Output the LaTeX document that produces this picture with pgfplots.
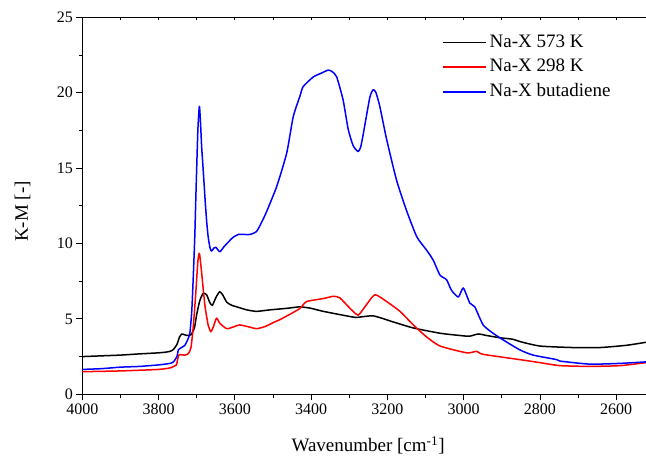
\documentclass[border=0pt]{standalone}
\usepackage{fontspec}
\setmainfont{Liberation Serif}
\usepackage{pgfplots}
\pgfplotsset{compat=1.18}

% Kubelka-Munk spectra of Na-X (wavenumber in cm^-1, K-M value)
\pgfplotsset{spec/.style={line width=1.5pt, line join=round, smooth, tension=0.35}}
\begin{document}
\begin{tikzpicture}
\useasboundingbox (-82.3pt,-61.7pt) rectangle (563.7pt,394.3pt);
\begin{axis}[
  scale only axis,
  width=563.7pt, height=377pt,
  x dir=reverse,
  xmin=2522, xmax=4000, ymin=0, ymax=25,
  axis x line*=bottom, axis y line*=left,
  axis line style={-, line width=1.1pt},
  tick align=outside,
  major tick length=6pt, minor tick length=3.5pt,
  every tick/.style={black, line width=0.9pt},
  xtick={2600,2800,...,4000}, ytick={0,5,...,25},
  xticklabels={2600,2800,3000,3200,3400,3600,3800,4000},
  yticklabels={0,5,10,15,20,25},
  minor x tick num=1, minor y tick num=1,
  tick label style={font=\rmfamily\fontsize{16}{19}\selectfont},
  label style={font=\fontsize{19}{23}\selectfont},
  xlabel={Wavenumber [cm\textsuperscript{-1}]},
  ylabel={K-M [-]},
  xlabel style={at={(axis description cs:0.507,0)}, anchor=base, yshift=-57pt},
  ylabel style={at={(axis description cs:-0.106,0.485)}, anchor=center},
  legend cell align=left,
  legend style={draw=none, fill=none, at={(axis description cs:0.6376,0.957)},
    anchor=north west, inner sep=0pt, row sep=7.2pt,
    font=\fontsize{19}{23}\selectfont,
    nodes={inner xsep=3pt, inner ysep=0pt, text height=13.5pt, text depth=4pt}},
  legend image code/.code={\draw[#1, line width=1.5pt] (0pt,0pt) -- (43.3pt,0pt);},
]
\addplot[black, spec] coordinates {
(4000,2.5) (3950,2.55) (3900,2.6) (3850,2.68) (3800,2.75) (3780,2.8) (3770,2.85)
(3762,2.95) (3752,3.3) (3745,3.8) (3739,4.0) (3732,3.95) (3725,3.9) (3715,3.95)
(3706,4.4) (3700,5.3) (3692,6.2) (3683,6.7) (3674,6.6) (3666,6.1) (3659,5.9)
(3650,6.4) (3640,6.8) (3632,6.6) (3621,6.1) (3608,5.9) (3595,5.8) (3569,5.6)
(3543,5.5) (3508,5.6) (3464,5.7) (3429,5.8) (3400,5.7) (3368,5.5) (3307,5.2)
(3281,5.1) (3237,5.2) (3185,4.8) (3132,4.4) (3062,4.05) (3010,3.9) (2985,3.85)
(2962,4.0) (2940,3.9) (2905,3.75) (2871,3.65) (2853,3.5) (2800,3.2) (2713,3.1)
(2643,3.1) (2573,3.25) (2522,3.45)
};
\addlegendentry{Na-X 573 K}
\addplot[red, spec] coordinates {
(4000,1.5) (3900,1.55) (3800,1.65) (3770,1.75) (3760,1.85) (3753,1.95) (3747,2.6)
(3731,2.6) (3722,2.7) (3715,3.1) (3709,4.5) (3703,6.5) (3697,8.8) (3693,9.35)
(3688,8.3) (3683,7.0) (3678,5.8) (3670,4.6) (3663,4.15) (3656,4.5) (3648,5.05)
(3639,4.7) (3621,4.35) (3600,4.5) (3587,4.6) (3560,4.45) (3543,4.35) (3520,4.5)
(3500,4.75) (3482,4.95) (3456,5.3) (3429,5.7) (3412,6.15) (3368,6.35) (3342,6.5)
(3325,6.4) (3298,5.7) (3277,5.25) (3259,5.8) (3233,6.6) (3202,6.15) (3167,5.5)
(3132,4.6) (3097,3.8) (3062,3.2) (2992,2.75) (2966,2.85) (2949,2.65) (2853,2.3)
(2800,2.1) (2747,1.9) (2669,1.85) (2590,1.9) (2522,2.1)
};
\addlegendentry{Na-X 298 K}
\addplot[blue, spec] coordinates {
(4000,1.65) (3950,1.7) (3900,1.8) (3850,1.85) (3800,1.95) (3770,2.05) (3761,2.15)
(3752,2.5) (3748,2.95) (3740,3.1) (3731,3.25) (3724,3.6) (3718,4.05) (3713,5.5)
(3709,7.8) (3705,10.5) (3702,13.3) (3697,17.5) (3693,19.1) (3690,18.0) (3687,16.4)
(3682,14.5) (3678,12.9) (3674,11.5) (3670,10.45) (3665,9.7) (3661,9.5) (3655,9.7)
(3650,9.75) (3645,9.6) (3639,9.45) (3628,9.8) (3617,10.1) (3605,10.4) (3591,10.6)
(3575,10.6) (3560,10.6) (3543,10.8) (3530,11.4) (3517,12.1) (3490,13.8) (3464,16.0)
(3447,18.4) (3429,19.8) (3421,20.4) (3394,21.05) (3373,21.3) (3355,21.5) (3345,21.4)
(3333,21.05) (3316,19.5) (3303,17.6) (3290,16.5) (3277,16.1) (3270,16.4) (3263,17.3)
(3246,19.7) (3237,20.2) (3230,20.0) (3220,19.1) (3202,16.9) (3176,14.2) (3150,12.2)
(3123,10.45) (3097,9.55) (3080,8.9) (3062,7.9) (3045,7.6) (3032,6.9) (3014,6.45)
(3001,7.05) (2984,6.05) (2971,5.8) (2949,4.6) (2923,4.05) (2896,3.6) (2853,2.95)
(2818,2.6) (2756,2.3) (2747,2.2) (2669,2.0) (2590,2.05) (2522,2.15)
};
\addlegendentry{Na-X butadiene}
\end{axis}
% top frame line with small inward ticks every 100 cm^-1
\begin{axis}[
  scale only axis,
  width=563.7pt, height=377pt,
  x dir=reverse,
  xmin=2522, xmax=4000, ymin=0, ymax=25,
  axis x line*=top, axis y line=none,
  axis line style={-, line width=1.1pt},
  xtick={2600,2700,...,4000}, xticklabels={},
  tick align=inside, major tick length=3pt,
  every tick/.style={black, line width=0.8pt},
  ytick=\empty,
]
\end{axis}
\end{tikzpicture}
\end{document}
